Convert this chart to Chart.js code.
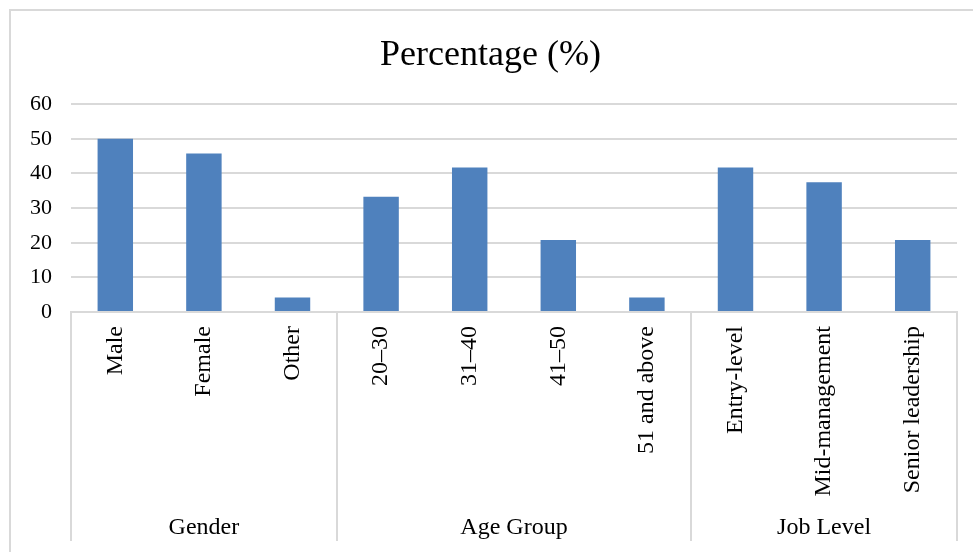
<!DOCTYPE html>
<html>
<head>
<meta charset="utf-8">
<script src="https://cdn.jsdelivr.net/npm/chart.js@4"></script>
<style>
  body { margin: 0; background: #fff; overflow: hidden; }
  #wrap { position: relative; width: 973px; height: 552px; }
  #frame { position: absolute; left: 9px; top: 9px; width: 1000px; height: 600px;
           border: 2px solid #d9d9d9; pointer-events: none; }
</style>
</head>
<body>
<div id="wrap">
  <canvas id="pct-chart" width="973" height="552"></canvas>
  <div id="frame"></div>
</div>
<script>
let categories = ["Male", "Female", "Other", "20\u201330", "31\u201340", "41\u201350", "51 and above",
                  "Entry-level", "Mid-management", "Senior leadership"];
let percentages = [50, 45.8, 4.2, 33.3, 41.7, 20.8, 4.2, 41.7, 37.5, 20.8];
let groupNames = ["Gender", "Age Group", "Job Level"];
let groupSizes = [3, 4, 3];

let serif = "'Liberation Serif', 'Times New Roman', serif";
let lineGray = "#d9d9d9";

// draws the group separators under the axis and the group names
let groupAxis = {
    id: "groupAxis",
    afterDraw(chart) {
        let ctx = chart.ctx;
        let x = chart.scales.x;
        let step = (x.right - x.left) / categories.length;
        let top = x.top;
        let bottom = x.bottom - 11;
        ctx.save();
        ctx.strokeStyle = lineGray;
        ctx.lineWidth = 2;
        let start = 0;
        let edges = [0];
        groupSizes.forEach(n => { start += n; edges.push(start); });
        edges.forEach(e => {
            let px = Math.round(x.left + e * step);
            ctx.beginPath();
            ctx.moveTo(px, top);
            ctx.lineTo(px, bottom);
            ctx.stroke();
        });
        ctx.fillStyle = "#000";
        ctx.font = "24px " + serif;
        ctx.textAlign = "center";
        ctx.textBaseline = "middle";
        groupNames.forEach((name, i) => {
            let mid = x.left + (edges[i] + edges[i + 1]) / 2 * step;
            ctx.fillText(name, mid, x.bottom - 24);
        });
        ctx.restore();
    }
};

let pctChart = new Chart(document.getElementById("pct-chart").getContext("2d"), {
    type: "bar",
    data: {
        labels: categories,
        datasets: [{
            data: percentages,
            backgroundColor: "#4f81bd",
            categoryPercentage: 1,
            barPercentage: 0.4
        }]
    },
    plugins: [groupAxis],
    options: {
        responsive: false,
        animation: false,
        layout: { padding: { left: 24, right: 16, top: 34, bottom: 0 } },
        plugins: {
            legend: { display: false },
            tooltip: { enabled: false },
            title: {
                display: true,
                text: "Percentage (%)",
                color: "#000",
                font: { family: serif, size: 36, weight: "normal" },
                padding: { top: 0, bottom: 27 }
            }
        },
        scales: {
            x: {
                grid: { display: false, drawTicks: false },
                border: { display: true, color: lineGray, width: 2 },
                ticks: {
                    color: "#000",
                    font: { family: serif, size: 24 },
                    minRotation: 90,
                    maxRotation: 90,
                    autoSkip: false,
                    padding: 14
                },
                afterFit(scale) { scale.height = 240; }
            },
            y: {
                min: 0,
                max: 60,
                grid: { color: lineGray, lineWidth: 2, drawTicks: false },
                border: { display: false },
                ticks: {
                    stepSize: 10,
                    color: "#000",
                    font: { family: serif, size: 22 },
                    padding: 19
                },
                afterFit(scale) { scale.width = 47; }
            }
        }
    }
});
</script>
</body>
</html>
